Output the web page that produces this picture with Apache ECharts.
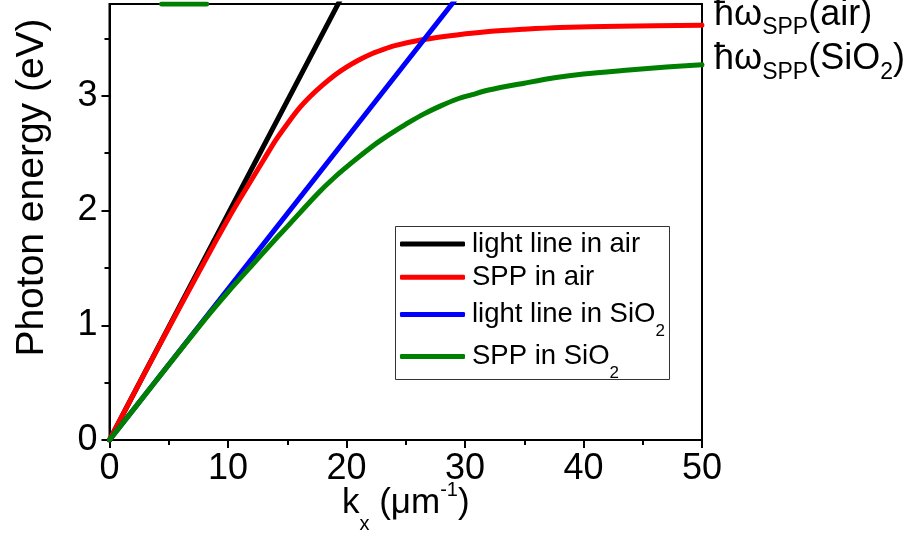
<!DOCTYPE html>
<html>
<head>
<meta charset="utf-8">
<script src="https://cdn.jsdelivr.net/npm/echarts@6/dist/echarts.min.js"></script>
<style>
html,body{margin:0;padding:0;background:#fff;}
#chart{width:914px;height:538px;}
</style>
</head>
<body>
<div id="chart"></div>
<script>
// ---- data ----
const seriesNames = ['light line in air', 'SPP in air', 'light line in SiO2', 'SPP in SiO2'];

const kLightAir = [0, 10, 20];
const eLightAir = [0, 1.97, 3.94];

const kSppAir = [0, 3, 6, 9, 10, 11, 12, 13, 14, 15, 16, 17, 18, 19, 20, 21, 22, 23, 24, 26.5, 29.3, 32, 35, 38, 43, 50];
const eSppAir = [0, 0.59, 1.17, 1.74, 1.925, 2.10, 2.27, 2.44, 2.61, 2.755, 2.89, 3.00, 3.095, 3.18, 3.25, 3.31, 3.36, 3.40, 3.435, 3.49, 3.53, 3.56, 3.58, 3.595, 3.607, 3.615];

const kLightSiO2 = [0, 10, 20, 30];
const eLightSiO2 = [0, 1.315, 2.63, 3.945];

const kSppSiO2 = [0, 4, 8, 10, 12, 14, 15, 17.5, 19, 20.6, 22, 23, 24.2, 25.3, 26.5, 27.9, 29.3, 30.6, 32, 35, 37.7, 40, 43.3, 47, 50];
const eSppSiO2 = [0, 0.525, 1.045, 1.29, 1.52, 1.75, 1.86, 2.14, 2.29, 2.43, 2.545, 2.62, 2.70, 2.77, 2.84, 2.91, 2.97, 3.01, 3.05, 3.11, 3.16, 3.19, 3.22, 3.25, 3.27];

// short upper branch visible at the top edge
const kSppSiO2Upper = [4.4, 8.2];
const eSppSiO2Upper = [3.80, 3.80];

const xMajorTicks = [0, 10, 20, 30, 40, 50];
const xMinorTicks = [5, 15, 25, 35, 45];
const yMajorTicks = [0, 1, 2, 3];
const yMinorTicks = [0.5, 1.5, 2.5, 3.5];

const colors = ['#000000', '#ff0000', '#0000ff', '#008000'];

// ---- helpers ----
const zip = (a, b) => a.map((v, i) => [v, b[i]]);
const FONT = 'Liberation Sans, Arial, sans-serif';

const legendLabel = {
  'light line in air': '{n|light line in air}',
  'SPP in air': '{n|SPP in air}',
  'light line in SiO2': '{n|light line in SiO}{s|2}',
  'SPP in SiO2': '{n|SPP in SiO}{s|2}'
};
const legendRich = {
  n: {fontSize: 27.5, lineHeight: 28, fontFamily: FONT, color: '#000'},
  s: {fontSize: 17, lineHeight: 28, fontFamily: FONT, color: '#000', padding: [34, 0, 0, 0]}
};
const legendCommon = {
  orient: 'vertical',
  left: 400,
  padding: 0,
  itemGap: 5.3,
  itemWidth: 65,
  itemHeight: 5,
  icon: 'roundRect',
  selectedMode: false,
  formatter: name => legendLabel[name],
  textStyle: {rich: legendRich, padding: [0, 0, 0, 2]}
};

const endRich = {
  m: {fontSize: 36, lineHeight: 40, fontFamily: FONT, color: '#000'},
  s: {fontSize: 23, lineHeight: 40, fontFamily: FONT, color: '#000', padding: [24, 0, 0, 0]},
  s2: {fontSize: 23, lineHeight: 40, fontFamily: FONT, color: '#000', padding: [28, 0, 0, 0]}
};

const lineSeries = (name, data, color, extra) => Object.assign({
  name, type: 'line', data, showSymbol: false, symbol: 'none',
  smooth: 0.3, clip: true, xAxisIndex: 0, yAxisIndex: 0,
  lineStyle: {color, width: 5, cap: 'round', join: 'round'},
  itemStyle: {color}, emphasis: {disabled: true}
}, extra || {});

const tickStyle = {color: '#000', width: 2};

const chart = echarts.init(document.getElementById('chart'), null, {renderer: 'canvas'});
chart.setOption({
  animation: false,
  backgroundColor: '#fff',
  grid: {left: 109.5, right: 212, top: 4, bottom: 98, show: true, borderColor: '#000', borderWidth: 2,
         containLabel: false, outerBoundsMode: 'none'},
  legend: [
    Object.assign({}, legendCommon, {top: 230, data: seriesNames.slice(0, 2)}),
    Object.assign({}, legendCommon, {top: 289, data: seriesNames.slice(2, 3)}),
    Object.assign({}, legendCommon, {top: 331, data: seriesNames.slice(3)})
  ],
  graphic: [{
    type: 'rect', left: 393, top: 224, shape: {width: 274, height: 153},
    style: {fill: 'none', stroke: '#333', lineWidth: 1}, silent: true, z: 10
  }],
  xAxis: [{
    type: 'value', min: 0, max: 50,
    axisLine: {show: true, lineStyle: {color: '#000', width: 2}},
    axisTick: {show: true, inside: false, length: 8, customValues: xMajorTicks, lineStyle: tickStyle},
    axisLabel: {customValues: xMajorTicks, fontSize: 36, color: '#000', fontFamily: FONT, margin: 11},
    splitLine: {show: false},
    name: '{a|k}{sb|x}{a| (μm}{sp|-1}{a|)}',
    nameLocation: 'middle', nameGap: 43, nameMoveOverlap: false,
    nameTextStyle: {
      rich: {
        a: {fontSize: 35, lineHeight: 40, fontFamily: FONT, color: '#000'},
        sb: {fontSize: 20, lineHeight: 40, fontFamily: FONT, color: '#000', padding: [42, 0, 0, 0]},
        sp: {fontSize: 20, lineHeight: 40, fontFamily: FONT, color: '#000', padding: [0, 0, 26, 0]}
      }
    }
  }, {
    type: 'value', min: 0, max: 50, position: 'bottom',
    axisLine: {show: false},
    axisTick: {show: true, inside: false, length: 5, customValues: xMinorTicks, lineStyle: tickStyle},
    axisLabel: {show: false}, splitLine: {show: false}
  }],
  yAxis: [{
    type: 'value', min: 0, max: 3.8,
    axisLine: {show: true, lineStyle: {color: '#000', width: 2}},
    axisTick: {show: true, inside: false, length: 8, customValues: yMajorTicks, lineStyle: tickStyle},
    axisLabel: {customValues: yMajorTicks, fontSize: 36, color: '#000', fontFamily: FONT, margin: 12},
    splitLine: {show: false},
    name: 'Photon energy (eV)',
    nameLocation: 'middle', nameGap: 58, nameRotate: 90, nameMoveOverlap: false,
    nameTextStyle: {fontSize: 39, color: '#000', fontFamily: FONT, padding: [0, 0, 0, 69]}
  }, {
    type: 'value', min: 0, max: 3.8, position: 'left',
    axisLine: {show: false},
    axisTick: {show: true, inside: false, length: 5, customValues: yMinorTicks, lineStyle: tickStyle},
    axisLabel: {show: false}, splitLine: {show: false}
  }],
  series: [
    lineSeries(seriesNames[0], zip(kLightAir, eLightAir), colors[0], {smooth: false}),
    lineSeries(seriesNames[1], zip(kSppAir, eSppAir), colors[1], {
      endLabel: {show: true, distance: 12, offset: [0, -10], formatter: '{m|ħω}{s|SPP}{m|(air)}', rich: endRich}
    }),
    lineSeries(seriesNames[2], zip(kLightSiO2, eLightSiO2), colors[2], {smooth: false}),
    lineSeries(seriesNames[3], zip(kSppSiO2, eSppSiO2), colors[3], {
      endLabel: {show: true, distance: 12, offset: [0, -6], formatter: '{m|ħω}{s2|SPP}{m|(SiO}{s2|2}{m|)}', rich: endRich}
    }),
    lineSeries(seriesNames[3], zip(kSppSiO2Upper, eSppSiO2Upper), colors[3], {smooth: false})
  ]
});
</script>
</body>
</html>
